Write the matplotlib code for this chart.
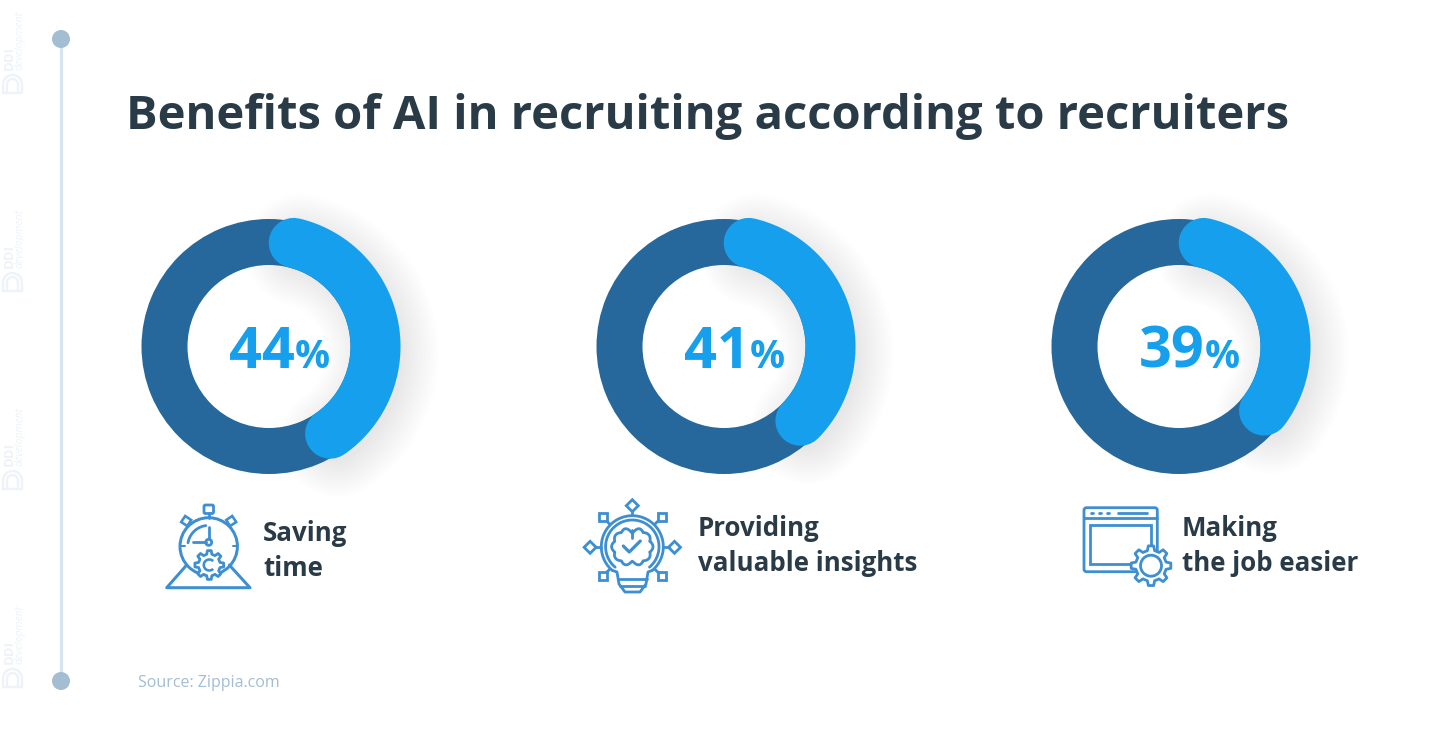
import numpy as np
import matplotlib
import matplotlib.pyplot as plt
from matplotlib.patches import Arc, Circle, FancyBboxPatch, Polygon, Rectangle, Wedge

matplotlib.use('Agg')

title = 'Benefits of AI in recruiting according to recruiters'
source = 'Source: Zippia.com'
values = [44, 41, 39]
labels = [['Saving', 'time'], ['Providing', 'valuable insights'], ['Making', 'the job easier']]

DARK = '#26689B'
BLUE = '#159FEC'
TEXT = '#2A3B48'
ICON = '#3E8FD2'
PALE = '#A3BDD2'
MARK = '#EDF3F8'

centers_x = [269, 724, 1179]
center_y = 346.5
label_x = [263, 698, 1182]
label_y = [[541, 576], [536, 571], [536, 571]]
FONT = 'Open Sans'


def px(w):
    return w * 0.72


def arc_xy(cx, cy, r, a0, a1):
    t = np.radians(np.linspace(a0, a1, 120))
    return cx + r * np.sin(t), cy - r * np.cos(t)


def donut(ax, cx, value):
    r = 106.5
    cap = 13.4
    a1 = value * 3.6 - cap
    # soft shadow under the blue arc
    x, y = arc_xy(cx + 7, center_y + 7, r, cap, a1)
    for i in range(24):
        ax.plot(x, y, color='#3F6684', lw=px(40 + i * 3.2), alpha=0.0035,
                solid_capstyle='round', zorder=1)
    ax.add_patch(Wedge((cx, center_y), 127.5, 0, 360, width=46, fc=DARK, ec='none', zorder=2))
    x, y = arc_xy(cx, center_y, r, cap, a1)
    ax.plot(x, y, color=BLUE, lw=px(50), solid_capstyle='round', zorder=3)
    ax.text(cx + 26, 368, str(value), color=BLUE, fontsize=41.5, fontweight='bold',
            family=FONT, ha='right', va='baseline', zorder=4)
    ax.text(cx + 26, 368, '%', color=BLUE, fontsize=28, fontweight='bold',
            family=FONT, ha='left', va='baseline', zorder=4)


def ln(ax, xs, ys, w=2.8, color=ICON):
    ax.plot(xs, ys, color=color, lw=px(w), solid_capstyle='round',
            solid_joinstyle='round', zorder=6)


def circ(ax, cx, cy, r, fc='none', w=2.8, z=6):
    ax.add_patch(Circle((cx, cy), r, fc=fc, ec=ICON, lw=px(w), zorder=z))


def gear(ax, cx, cy, r_out, r_in, teeth, w=2.8):
    t = []
    rr = []
    step = 2 * np.pi / teeth
    for k in range(teeth):
        a = k * step
        t += [a - step * 0.30, a - step * 0.17, a + step * 0.17, a + step * 0.30]
        rr += [r_in, r_out, r_out, r_in]
    t = np.array(t)
    rr = np.array(rr)
    pts = np.column_stack([cx + rr * np.cos(t), cy + rr * np.sin(t)])
    ax.add_patch(Polygon(pts, closed=True, fc='white', ec=ICON, lw=px(w), joinstyle='round', zorder=7))


def clock_icon(ax):
    cx, cy = 208.7, 546.4
    # mountain behind the gear
    ln(ax, [186.7, 166.7, 250, 229.3], [565, 587.7, 587.7, 565], 3)
    circ(ax, cx, cy, 28.7, w=3)
    ax.add_patch(FancyBboxPatch((204.5, 505.5), 8.5, 7.5, boxstyle='round,pad=0.5,rounding_size=1.5',
                                fc='white', ec=ICON, lw=px(2.8), zorder=6))
    ln(ax, [208.7, 208.7], [513, 518])
    for sx in (-1, 1):
        kx, ky = cx + sx * 22.5, 521
        s = 5
        ax.add_patch(Polygon([(kx - s * sx, ky - s * 0.2), (kx + s * 0.2 * sx, ky - s),
                              (kx + s * sx, ky + s * 0.2), (kx - s * 0.2 * sx, ky + s)],
                             closed=True, fc='white', ec=ICON, lw=px(2.6), zorder=6))
    x, y = arc_xy(cx, cy, 21, -80, -8)
    ln(ax, x, y)
    circ(ax, cx, 542.3, 3)
    ln(ax, [cx, cx], [539, 526.7])
    ln(ax, [205.7, 193.3], [542.3, 542.3])
    ln(ax, [cx + 24, cx + 28], [cy, cy], 2)
    ln(ax, [cx - 24, cx - 28], [cy, cy], 2)
    gear(ax, 209.3, 565, 14.5, 11, 8)
    ax.add_patch(Arc((209.3, 565), 11, 11, theta1=45, theta2=315, ec=ICON, lw=px(2.6), zorder=8))


def bulb_icon(ax):
    cx, cy = 632.3, 546.7
    # bulb rings stay open at the bottom for the base
    for r in (31, 26.7):
        x, y = arc_xy(cx, cy, r, -140, 140)
        ln(ax, x, y)
    ln(ax, [612.5, 617, 619, 625, 640, 646, 648, 652], [570.5, 572, 584, 592, 592, 584, 572, 570.5])
    ln(ax, [618, 647], [579, 579])
    ln(ax, [619.5, 645], [585.5, 585.5])
    t = np.linspace(0, 2 * np.pi, 200)
    r = 17.5 + 2.2 * np.abs(np.cos(5 * t)) - 3 * np.exp(-((t - np.pi / 2) / 0.25) ** 2) \
        - 4 * np.exp(-((t - 3 * np.pi / 2) / 0.25) ** 2)
    ax.add_patch(Polygon(np.column_stack([cx + 1.05 * r * np.cos(t), cy + r * np.sin(t)]),
                         closed=True, fc='none', ec=ICON, lw=px(2.8), zorder=6))
    ln(ax, [cx, cx], [530, 538])
    ln(ax, [cx - 9, cx - 3, cx + 8], [546, 552, 541], 3.2)
    s = 6
    ax.add_patch(Polygon([(cx - s, 505.7), (cx, 505.7 - s), (cx + s, 505.7), (cx, 505.7 + s)],
                         closed=True, fc='none', ec=ICON, lw=px(2.8), zorder=6))
    ln(ax, [cx, cx], [511.7, 515])
    for sx in (-1, 1):
        mx = cx + sx * 42.2
        ax.add_patch(Polygon([(mx - s, 547.3), (mx, 547.3 - s), (mx + s, 547.3), (mx, 547.3 + s)],
                             closed=True, fc='none', ec=ICON, lw=px(2.8), zorder=6))
        ln(ax, [mx - sx * s, cx + sx * 31], [547.3, 547.3])
        for sy in (-1, 1):
            qx, qy = cx + sx * 29.7, cy + sy * 29.6
            ax.add_patch(Rectangle((qx - 4, qy - 4), 8, 8, fc='white', ec=ICON, lw=px(2.8), zorder=6))
            ln(ax, [qx - sx * 4, cx + sx * 22.5], [qy - sy * 4, cy + sy * 22.5])


def window_icon(ax):
    ax.add_patch(FancyBboxPatch((1084, 507.7), 73.3, 64, boxstyle='round,pad=0,rounding_size=2.5',
                                fc='none', ec=ICON, lw=px(2.8), zorder=6))
    ln(ax, [1084, 1157.3], [518.3, 518.3])
    for x0 in (1092.3, 1100, 1108.3):
        ln(ax, [x0 - 1, x0 + 1], [513.3, 513.3], 2.8)
    ln(ax, [1118.3, 1146.7], [513.3, 513.3], 2.8)
    ax.add_patch(Rectangle((1090, 525), 61, 39.3, fc='none', ec=ICON, lw=px(2.8), zorder=6))
    gear(ax, 1151, 565.7, 20, 15.5, 8)
    circ(ax, 1151, 565.7, 10.5, fc='white', z=8)


def watermark(ax, y0):
    ax.text(9, y0 + 59, 'DDI', color=MARK, fontsize=9.5, fontweight='bold', family=FONT,
            rotation=90, ha='center', va='bottom', zorder=0)
    ax.text(20, y0 + 59, 'development', color=MARK, fontsize=7.5, style='italic', family=FONT,
            rotation=90, ha='center', va='bottom', zorder=0)
    ym = y0 + 73.5
    for r in (9.5, 5.5):
        ax.add_patch(Arc((12.5, ym), 2 * r, 2 * r, theta1=180, theta2=360, ec=MARK, lw=px(2.4), zorder=0))
        ln(ax, [12.5 - r, 12.5 - r], [ym, y0 + 81.5], 2.4, MARK)
        ln(ax, [12.5 + r, 12.5 + r], [ym, y0 + 81.5], 2.4, MARK)
    ln(ax, [3, 22], [y0 + 81.5, y0 + 81.5], 2.4, MARK)


fig = plt.figure(figsize=(14.4, 7.36), dpi=100, facecolor='white')
ax = fig.add_axes([0, 0, 1, 1])
ax.set_xlim(0, 1440)
ax.set_ylim(736, 0)
ax.axis('off')

for y0 in (11, 209, 407, 605):
    watermark(ax, y0)

ax.plot([61, 61], [39, 681], color='#D5E4F0', lw=px(3), zorder=1)
for yy in (39, 681):
    ax.add_patch(Circle((61, yy), 9, fc=PALE, ec='none', zorder=2))

ax.text(126.5, 129, title, color=TEXT, fontsize=33.95, fontweight='bold', family=FONT,
        ha='left', va='baseline')

for i in range(3):
    donut(ax, centers_x[i], values[i])
    for line, yy in zip(labels[i], label_y[i]):
        ax.text(label_x[i], yy, line, color=TEXT, fontsize=18.6, fontweight='bold', family=FONT,
                ha='left', va='baseline')

clock_icon(ax)
bulb_icon(ax)
window_icon(ax)

ax.text(138, 687, source, color=PALE, fontsize=11.5, family=FONT, ha='left', va='baseline')

fig.savefig('out.png', dpi=100)
